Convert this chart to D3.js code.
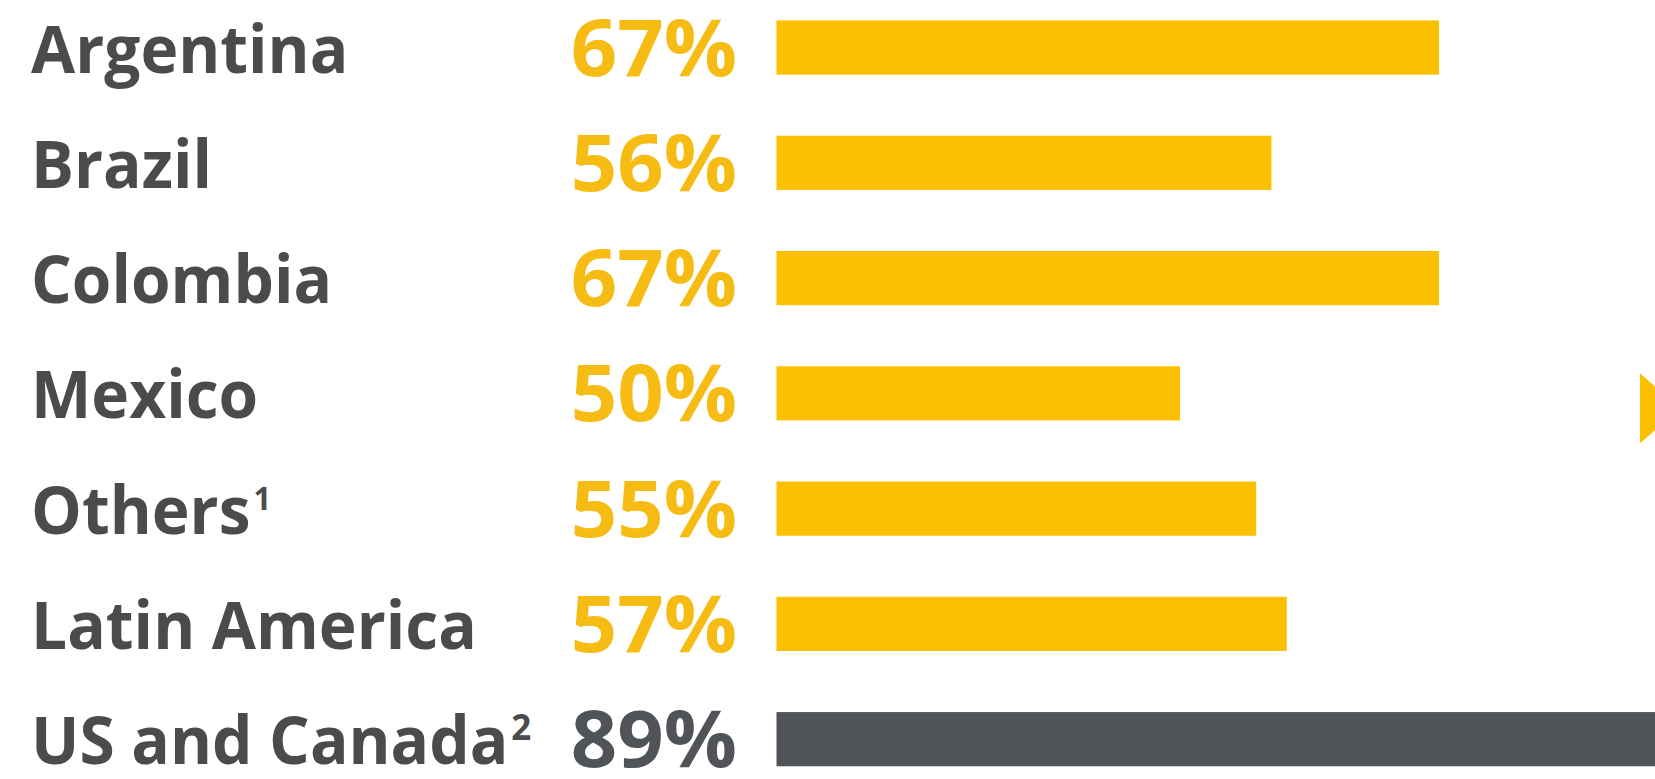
<!DOCTYPE html>
<html>
<head>
<meta charset="utf-8">
<script src="https://cdn.jsdelivr.net/npm/d3@7"></script>
<style>
  html, body { margin: 0; padding: 0; background: #ffffff; overflow: hidden; }
  svg { display: block; }
</style>
</head>
<body>
<svg id="chart" width="1655" height="779"></svg>
<script>
// ---- data ----
const categories = ["Argentina", "Brazil", "Colombia", "Mexico", "Others", "Latin America", "US and Canada"];
const footnotes  = ["", "", "", "", "1", "", "2"];
const values     = [67, 56, 67, 50, 55, 57, 89];
const highlight  = [false, false, false, false, false, false, true];
const axisStart  = 23.5;   // value where the bars begin
const axisEnd    = 89;

const W = 1655, H = 779;
const svg = d3.select("#chart");

const yellow = "#fbc000";
const yellowText = "#f6bc14";
const dark = "#505357";
const labelColor = "#4b4b4d";

const y = d3.scaleBand()
  .domain(categories)
  .range([-10.1, 796.8])
  .paddingInner(0.53)
  .paddingOuter(0.265);

const x = d3.scaleLinear()
  .domain([axisStart, axisEnd])
  .range([776.5, 1774]);

const rows = categories.map((c, i) => ({ c, v: values[i], fn: footnotes[i], hi: highlight[i] }));

// bars
svg.append("g").selectAll("rect")
  .data(rows)
  .join("rect")
  .attr("x", x(axisStart))
  .attr("y", d => y(d.c))
  .attr("width", d => x(d.v) - x(axisStart))
  .attr("height", y.bandwidth())
  .attr("fill", d => d.hi ? dark : yellow);

// category labels
const sx = 0.97;
const lab = svg.append("g").selectAll("text")
  .data(rows)
  .join("text")
  .attr("transform", d => `translate(31,${y(d.c) + y.bandwidth() / 2 + 25}) scale(${sx},1)`)
  .attr("font-family", "'Open Sans', sans-serif")
  .attr("font-weight", 700)
  .attr("font-size", 66)
  .attr("fill", labelColor);
lab.append("tspan").text(d => d.c);
lab.append("tspan")
  .attr("font-size", d => d.fn === "2" ? 36 : 32)
  .attr("dy", -24)
  .attr("dx", 3)
  .text(d => d.fn);

// value labels
svg.append("g").selectAll("text")
  .data(rows)
  .join("text")
  .attr("transform", d => `translate(737,${y(d.c) + y.bandwidth() / 2 + 28}) scale(1.03,1)`)
  .attr("text-anchor", "end")
  .attr("font-family", "'Open Sans', sans-serif")
  .attr("font-weight", 700)
  .attr("font-size", 79)
  .attr("fill", d => d.hi ? dark : yellowText)
  .text(d => d.v + "%");

// arrow marker at right edge, aligned with Mexico row
const ay = y("Mexico") + y.bandwidth() / 2 + 15;
svg.append("path")
  .attr("d", d3.line()([[1640, ay - 35], [1640, ay + 35], [1680, ay]]) + "Z")
  .attr("fill", yellow);
</script>
</body>
</html>
